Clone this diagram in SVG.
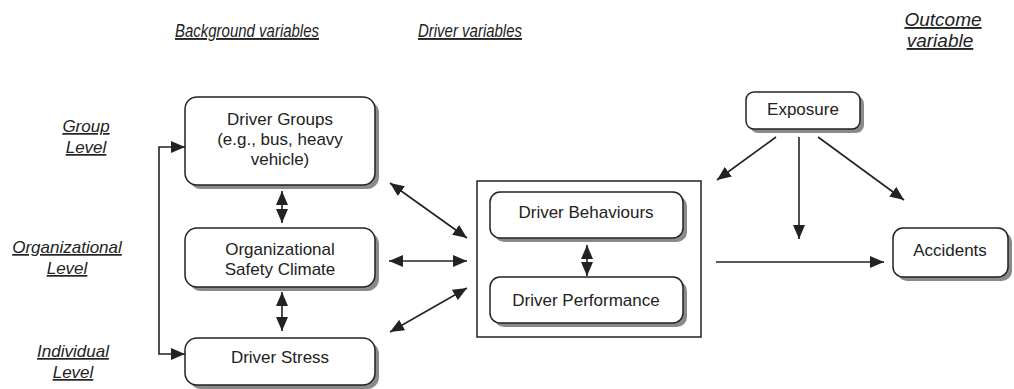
<svg xmlns="http://www.w3.org/2000/svg" width="1014" height="389" viewBox="0 0 1014 389">
  <style>
    text { font-family: "Liberation Sans", Arial, sans-serif; fill: #222; }
    .lbl { font-size: 17px; text-anchor: middle; }
    .hdr { font-size: 19px; font-style: italic; text-decoration: underline; }
    .lvl { font-size: 17px; font-style: italic; text-decoration: underline; text-anchor: middle; }
    .box { fill: #fff; stroke: #222; stroke-width: 1.5; }
    .shadow { fill: #8a8a8a; }
    .frame { fill: #fff; stroke: #222; stroke-width: 1.5; }
    .edge { fill: none; stroke: #222; stroke-width: 1.6; }
  </style>
  <defs>
    <marker id="head" viewBox="0 0 14 12" refX="14" refY="6" markerWidth="14" markerHeight="12" markerUnits="userSpaceOnUse" orient="auto-start-reverse">
      <path d="M0,0 L14,6 L0,12 z" fill="#222"/>
    </marker>
  </defs>

  <rect width="1014" height="389" fill="#fff"/>

  <!-- column headings -->
  <g id="headings">
    <text class="hdr" x="175" y="37" textLength="144" lengthAdjust="spacingAndGlyphs">Background variables</text>
    <text class="hdr" x="418" y="37" textLength="104" lengthAdjust="spacingAndGlyphs">Driver variables</text>
    <text class="hdr" x="943" y="26" text-anchor="middle">Outcome</text>
    <text class="hdr" x="940" y="47" text-anchor="middle">variable</text>
  </g>

  <!-- level labels -->
  <g id="levels">
    <text class="lvl" x="86" y="132">Group</text>
    <text class="lvl" x="86" y="153">Level</text>
    <text class="lvl" x="67" y="253">Organizational</text>
    <text class="lvl" x="67" y="274">Level</text>
    <text class="lvl" x="73" y="357">Individual</text>
    <text class="lvl" x="73" y="378">Level</text>
  </g>

  <!-- background variables -->
  <g id="driver-groups">
    <rect class="shadow" x="189" y="101" width="190" height="88" rx="12"/>
    <rect class="box" x="185" y="97" width="190" height="88" rx="12"/>
    <text class="lbl" x="280" y="125">Driver Groups</text>
    <text class="lbl" x="280" y="145">(e.g., bus, heavy</text>
    <text class="lbl" x="280" y="165">vehicle)</text>
  </g>
  <g id="safety-climate">
    <rect class="shadow" x="189" y="232" width="190" height="59" rx="12"/>
    <rect class="box" x="185" y="228" width="190" height="59" rx="12"/>
    <text class="lbl" x="280" y="255">Organizational</text>
    <text class="lbl" x="280" y="275">Safety Climate</text>
  </g>
  <g id="driver-stress">
    <rect class="shadow" x="189" y="342" width="190" height="47" rx="12"/>
    <rect class="box" x="185" y="338" width="190" height="47" rx="12"/>
    <text class="lbl" x="280" y="363">Driver Stress</text>
  </g>

  <!-- driver variables -->
  <g id="driver-variables">
    <rect class="frame" x="477" y="181" width="224" height="156"/>
  </g>
  <g id="driver-behaviours">
    <rect class="shadow" x="494" y="196" width="193" height="46" rx="10"/>
    <rect class="box" x="490" y="192" width="193" height="46" rx="10"/>
    <text class="lbl" x="586" y="218">Driver Behaviours</text>
  </g>
  <g id="driver-performance">
    <rect class="shadow" x="494" y="281" width="193" height="46" rx="10"/>
    <rect class="box" x="490" y="277" width="193" height="46" rx="10"/>
    <text class="lbl" x="586" y="306">Driver Performance</text>
  </g>

  <!-- outcome side -->
  <g id="exposure">
    <rect class="shadow" x="750" y="96" width="114" height="37" rx="8"/>
    <rect class="box" x="746" y="92" width="114" height="37" rx="8"/>
    <text class="lbl" x="803" y="115">Exposure</text>
  </g>
  <g id="accidents">
    <rect class="shadow" x="897" y="232" width="115" height="49" rx="10"/>
    <rect class="box" x="893" y="228" width="115" height="49" rx="10"/>
    <text class="lbl" x="950" y="256">Accidents</text>
  </g>

  <!-- connectors -->
  <g id="connectors">
    <path class="edge" d="M185,147 H159 V354 H185" marker-start="url(#head)" marker-end="url(#head)"/>
    <line class="edge" x1="282" y1="191" x2="282" y2="223" marker-start="url(#head)" marker-end="url(#head)"/>
    <line class="edge" x1="282" y1="292" x2="282" y2="331" marker-start="url(#head)" marker-end="url(#head)"/>
    <line class="edge" x1="390" y1="183" x2="467" y2="238" marker-start="url(#head)" marker-end="url(#head)"/>
    <line class="edge" x1="389" y1="261" x2="467" y2="261" marker-start="url(#head)" marker-end="url(#head)"/>
    <line class="edge" x1="467" y1="288" x2="390" y2="332" marker-start="url(#head)" marker-end="url(#head)"/>
    <line class="edge" x1="587" y1="245" x2="587" y2="276" marker-start="url(#head)" marker-end="url(#head)"/>
    <line class="edge" x1="776" y1="137" x2="717" y2="180" marker-end="url(#head)"/>
    <line class="edge" x1="799" y1="137" x2="799" y2="239" marker-end="url(#head)"/>
    <line class="edge" x1="818" y1="137" x2="904" y2="200" marker-end="url(#head)"/>
    <line class="edge" x1="716" y1="262" x2="884" y2="262" marker-end="url(#head)"/>
  </g>
</svg>
